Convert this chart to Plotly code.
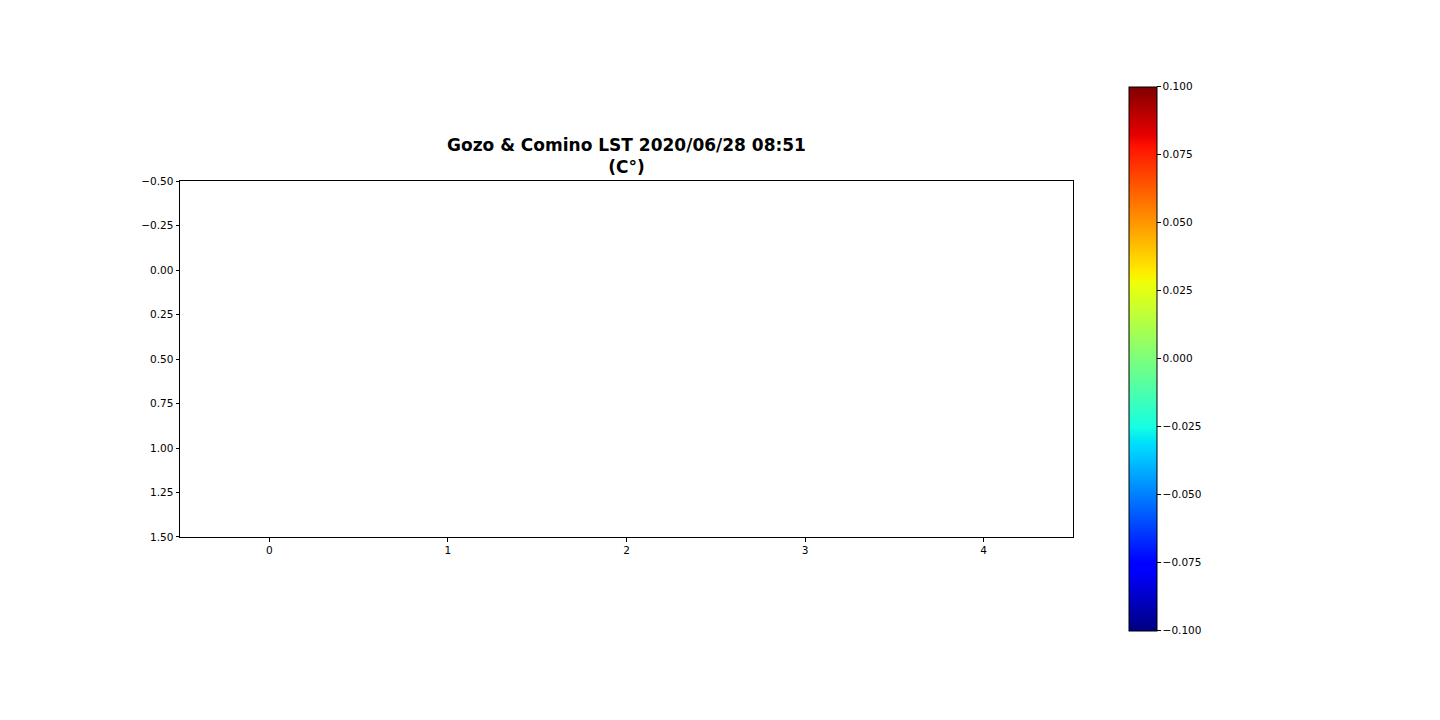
import plotly.graph_objects as go
import numpy as np

# Data: 2 x 5 grid, all values missing (NaN)
x_cols = [0, 1, 2, 3, 4]
y_rows = [0, 1]
z_vals = [[None, None, None, None, None],
          [None, None, None, None, None]]
z_min, z_max = -0.1, 0.1
cbar_ticks = [-0.1, -0.075, -0.05, -0.025, 0.0, 0.025, 0.05, 0.075, 0.1]
y_ticks = [-0.5, -0.25, 0.0, 0.25, 0.5, 0.75, 1.0, 1.25, 1.5]
title_lines = ["Gozo &amp; Comino LST 2020/06/28 08:51", "(C°)"]

# matplotlib 'jet' colormap
seg = {
    "r": [(0, 0), (0.35, 0), (0.66, 1), (0.89, 1), (1, 0.5)],
    "g": [(0, 0), (0.125, 0), (0.375, 1), (0.64, 1), (0.91, 0), (1, 0)],
    "b": [(0, 0.5), (0.11, 1), (0.34, 1), (0.65, 0), (1, 0)],
}
stops = sorted({p for v in seg.values() for p, _ in v})
def chan(c, t):
    xs = [p for p, _ in seg[c]]
    ys = [v for _, v in seg[c]]
    return float(np.interp(t, xs, ys))
jet = [[t, "rgb(%d,%d,%d)" % tuple(round(255 * chan(c, t)) for c in "rgb")] for t in stops]

def fmt(v, d):
    s = f"{abs(v):.{d}f}"
    return ("\u2212" + s) if v < 0 else s

# vertical pixel -> paper fraction (empirical page mapping)
def py(pix):
    return 1 - (pix - 4.5) / 710

fig = go.Figure()
fig.add_trace(go.Heatmap(
    x=x_cols, y=y_rows, z=z_vals, zmin=z_min, zmax=z_max,
    colorscale=jet, showscale=False, hoverongaps=False,
))
# colorbar carrier (the image itself has no valid values)
fig.add_trace(go.Scatter(
    x=[x_cols[0]], y=[y_rows[0]], mode="markers", hoverinfo="skip",
    marker=dict(
        size=0.1, opacity=0, color=[z_min], cmin=z_min, cmax=z_max,
        colorscale=jet, showscale=True,
        colorbar=dict(
            x=1129 / 1440, xanchor="left", xpad=0, ypad=0,
            y=py(358), yanchor="middle",
            len=546 / 710, lenmode="fraction",
            thickness=28, thicknessmode="pixels",
            outlinewidth=1, outlinecolor="black",
            tickvals=cbar_ticks, ticktext=[fmt(v, 3) for v in cbar_ticks],
            ticks="outside", ticklen=3.5, tickcolor="black",
            tickfont=dict(family="DejaVu Sans", size=10.5, color="black"),
        ),
    ),
))

axis_common = dict(
    showgrid=False, zeroline=False, showline=True, linecolor="black",
    linewidth=1, mirror=True, ticks="outside", ticklen=3.5, tickcolor="black",
    tickfont=dict(family="DejaVu Sans", size=10.5, color="black"),
)
fig.update_layout(
    width=1440, height=720,
    margin=dict(l=0, r=0, t=0, b=0),
    paper_bgcolor="white", plot_bgcolor="white",
    xaxis=dict(domain=[180 / 1440, 1073 / 1440], range=[-0.5, 4.5],
               tickvals=x_cols, ticktext=[str(v) for v in x_cols], **axis_common),
    yaxis=dict(domain=[py(537), py(180)], range=[1.5, -0.5],
               tickvals=y_ticks, ticktext=[fmt(v, 2) for v in y_ticks], **axis_common),
    annotations=[dict(
        text="<b>" + "<br>".join(title_lines) + "</b>",
        xref="paper", yref="paper", x=(180 + 1073) / 2 / 1440, y=py(178),
        xanchor="center", yanchor="bottom", showarrow=False,
        font=dict(family="DejaVu Sans", size=17, color="black"),
    )],
    showlegend=False,
)

fig.write_html("out.html")
